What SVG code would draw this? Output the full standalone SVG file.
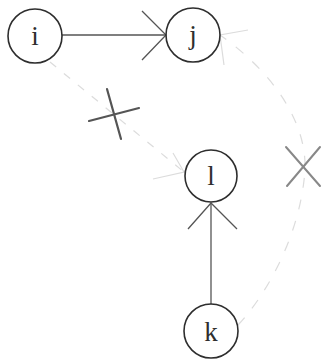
<svg xmlns="http://www.w3.org/2000/svg" width="326" height="362" viewBox="0 0 326 362">
<style>
.node circle{fill:none;stroke:#2e2e2e;stroke-width:1.6}
.node text{font-family:"Liberation Serif",serif;font-size:27px;fill:#2e2e2e;text-anchor:middle}
.edge{fill:none;stroke:#555;stroke-width:1.3}
.faint{fill:none;stroke:#dcdcdc;stroke-width:1.2}
.mark{fill:none;stroke:#555;stroke-width:2.2;stroke-linecap:round}
.markl{fill:none;stroke:#888;stroke-width:2;stroke-linecap:round}
</style>
<rect width="326" height="362" fill="#fff"/>
<g id="connectors">
  <line class="edge" x1="62" y1="35" x2="166" y2="35"/>
  <polyline class="edge" points="142,11 166,35 142,60"/>
  <line class="edge" x1="211" y1="304" x2="211" y2="203"/>
  <polyline class="edge" points="188,229 211,203 237,229"/>
  <path class="faint" d="M50,62 L184,172" stroke-dasharray="8,10"/>
  <polyline class="faint" points="153,179 184,172 173,153"/>
  <path class="faint" d="M238,325 C262,300 300,240 305,170 C307,120 270,70 220,35" stroke-dasharray="10,12"/>
  <polyline class="faint" points="248,30 220,35 224,65"/>
  <line class="mark" x1="89" y1="121" x2="139" y2="108"/>
  <line class="mark" x1="107" y1="89" x2="121" y2="139"/>
  <line class="markl" x1="286" y1="147" x2="320" y2="186"/>
  <line class="markl" x1="320" y1="147" x2="287" y2="186"/>
</g>
<g id="node-i" class="node"><circle cx="35" cy="36" r="27"/><text x="35" y="45">i</text></g>
<g id="node-j" class="node"><circle cx="193" cy="35" r="27"/><text x="193" y="44">j</text></g>
<g id="node-l" class="node"><circle cx="211" cy="176" r="26"/><text x="211" y="185">l</text></g>
<g id="node-k" class="node"><circle cx="211" cy="331" r="27"/><text x="211" y="341">k</text></g>
</svg>
